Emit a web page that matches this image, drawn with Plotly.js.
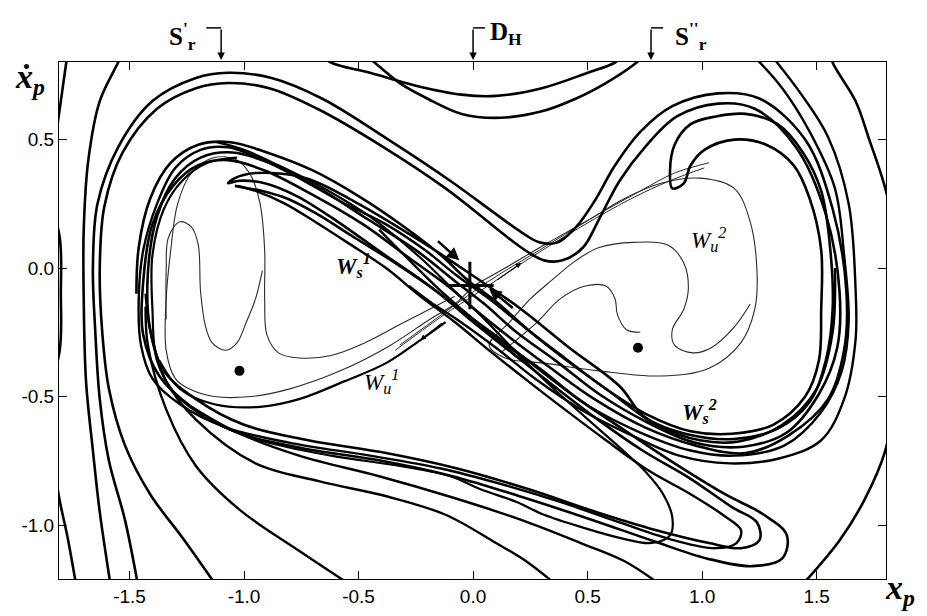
<!DOCTYPE html>
<html><head><meta charset="utf-8">
<script src="https://cdn.plot.ly/plotly-3.0.1.min.js"></script>
<style>html,body{margin:0;padding:0;background:#fff}#chart{width:927px;height:616px}</style>
</head><body><div id="chart"></div>
<script>
// ---- tick labels ----
const xTickVals = [-1.5,-1.0,-0.5,0,0.5,1.0,1.5];
const xTickText = ['-1.5','-1.0','-0.5','0.0','0.5','1.0','1.5'];
const yTickVals = [-1.0,-0.5,0,0.5];
const yTickText = ['-1.0','-0.5','0.0','0.5'];

// ---- outer trajectories (left) ----
const outerLeftAX = [-1.77,-1.80,-1.83,-1.86,-1.86,-1.84,-1.81,-1.77,-1.73];
const outerLeftAY = [0.84,0.65,0.45,0.15,-0.30,-0.65,-0.88,-1.05,-1.25];
const borderTouchX = [-1.86,-1.805,-1.80,-1.805,-1.86];
const borderTouchY = [0.30,0.12,-0.10,-0.32,-0.50];
const outerLeftBX = [-1.53,-1.55,-1.63,-1.68,-1.70,-1.70,-1.69,-1.66,-1.63,-1.58];
const outerLeftBY = [0.84,0.80,0.65,0.42,0.15,-0.12,-0.44,-0.71,-0.95,-1.25];

// ---- top saddle-shaped trajectories ----
const topUpperX = [-0.66,-0.62,-0.45,-0.25,-0.05,0.10,0.30,0.50,0.62,0.66];
const topUpperY = [0.83,0.80,0.76,0.71,0.675,0.67,0.70,0.76,0.80,0.83];
const topLowerX = [-0.47,-0.43,-0.32,-0.20,-0.05,0.12,0.30,0.45,0.58,0.70,0.75];
const topLowerY = [0.83,0.80,0.72,0.66,0.60,0.585,0.61,0.66,0.72,0.79,0.83];

// ---- outer trajectories (right) ----
const rt1X = [1.56,1.57,1.67,1.73,1.80,1.85,1.86,1.84,1.80,1.71,1.60,1.42];
const rt1Y = [0.84,0.80,0.65,0.50,0.31,0.10,-0.20,-0.50,-0.71,-0.90,-1.06,-1.25];
const rt2X = [1.22,1.35,1.47,1.58,1.62,1.64,1.61,1.52,1.36,1.14,0.95,0.73,0.51,0.31,0.14,-0.01,-0.14,-0.30,-0.41];
const rt2Y = [0.83,0.70,0.53,0.31,0.05,-0.21,-0.40,-0.56,-0.69,-0.73,-0.71,-0.64,-0.54,-0.41,-0.29,-0.19,-0.09,0.05,0.15];
const rt3X = [1.30,1.43,1.55,1.64,1.67,1.67,1.62,1.52,1.34,1.12,0.90,0.69,0.47,0.27,0.10,-0.07,-0.19,-0.28];
const rt3Y = [0.83,0.68,0.51,0.25,-0.08,-0.28,-0.51,-0.67,-0.74,-0.76,-0.73,-0.65,-0.55,-0.43,-0.31,-0.20,-0.13,-0.07];

// ---- stable manifold bundle (thick) ----
const m1X = [-1.46,-1.52,-1.59,-1.63,-1.65,-1.66,-1.64,-1.55,-1.40,-1.21,-1.07,-0.88,-0.66,-0.37,-0.10,0.10,0.21,0.29,0.37,0.45,0.53,0.62,0.73,0.87,1.07,1.25,1.45,1.57,1.63,1.62,1.55,1.38,1.19,0.97,0.75,0.53,0.34,0.16,0.02,-0.11,-0.28,-0.48,-0.71,-0.91,-1.07,-1.20,-1.31,-1.40,-1.44,-1.44,-1.37,-1.23,-1.03,-0.75,-0.40,-0.09,0.21,0.52,0.78,1.02,1.22,1.35,1.37,1.27,1.10,0.88,0.66,0.46,0.29,0.11,-0.06,-0.22,-0.40,-0.59,-0.77,-0.91,-1.02,-1.07,
  -1.04,-0.95,-0.73,-0.52,-0.22,0.00,0.21,0.42,0.64,
  0.75,0.95,1.14,1.33,1.47,1.54,1.57,1.56,1.52,1.44,1.33,1.19,1.06,0.95,0.88,0.86,0.87,
  0.92,0.95,1.01,1.14,1.28,1.40,1.47,1.52,1.52,1.51,1.45,1.31,1.13,0.95,0.76,0.58,0.40,0.24,0.10,-0.02,-0.14,
  -0.30,-0.50,-0.70,-0.90,-1.06,-1.20,-1.32,-1.41,-1.46,-1.47];
const m1Y = [-1.25,-0.98,-0.75,-0.51,-0.24,0.00,0.25,0.47,0.65,0.74,0.76,0.74,0.66,0.50,0.34,0.21,0.14,0.10,0.10,0.16,0.26,0.40,0.53,0.63,0.68,0.66,0.50,0.23,-0.09,-0.32,-0.51,-0.65,-0.72,-0.69,-0.62,-0.51,-0.39,-0.27,-0.17,-0.07,0.04,0.17,0.29,0.38,0.42,0.40,0.32,0.17,-0.05,-0.26,-0.42,-0.54,-0.64,-0.70,-0.75,-0.81,-0.89,-0.98,-1.06,-1.13,-1.16,-1.13,-1.04,-0.96,-0.88,-0.76,-0.63,-0.51,-0.39,-0.28,-0.16,-0.05,0.06,0.18,0.28,0.33,0.34,0.33,
  0.35,0.37,0.35,0.26,0.10,-0.03,-0.16,-0.31,-0.46,
  -0.58,-0.65,-0.665,-0.625,-0.52,-0.36,-0.16,0.07,0.30,0.45,0.56,0.60,0.59,0.56,0.48,0.38,0.31,
  0.33,0.40,0.46,0.50,0.48,0.40,0.27,0.07,-0.16,-0.36,-0.50,-0.61,-0.645,-0.635,-0.57,-0.47,-0.35,-0.24,-0.13,-0.05,0.05,
  0.16,0.28,0.38,0.45,0.49,0.48,0.41,0.27,0.08,-0.10];
const m2X = [-1.11,-1.26,-1.41,-1.52,-1.59,-1.62,-1.63,-1.61,-1.53,-1.38,-1.21,-1.07,-0.89,-0.68,-0.39,-0.12,0.08,0.21,0.31,0.39,0.48,0.55,0.64,0.75,0.89,1.07,1.23,1.41,1.54,1.60,1.59,1.51,1.37,1.18,0.97,0.76,0.55,0.36,0.19,0.05,-0.08,-0.25,-0.46,-0.69,-0.89,-1.05,-1.19,-1.30,-1.38,-1.42,-1.41,-1.35,-1.21,-1.00,-0.72,-0.38,-0.07,0.24,0.54,0.80,1.03,1.17,1.25,1.24,1.13,0.95,0.74,0.53,0.34,0.17,0.00,-0.16,-0.34,-0.52,-0.68,-0.81,-0.92,-0.98,-1.04];
const m2Y = [-1.25,-1.06,-0.88,-0.69,-0.47,-0.24,0.00,0.24,0.45,0.62,0.70,0.72,0.70,0.62,0.47,0.31,0.17,0.08,0.03,0.03,0.08,0.19,0.34,0.47,0.59,0.64,0.62,0.47,0.21,-0.09,-0.31,-0.49,-0.64,-0.695,-0.68,-0.60,-0.49,-0.36,-0.25,-0.14,-0.05,0.07,0.19,0.32,0.41,0.45,0.43,0.35,0.20,-0.02,-0.24,-0.40,-0.51,-0.61,-0.67,-0.72,-0.78,-0.86,-0.95,-1.02,-1.07,-1.09,-1.06,-0.99,-0.93,-0.82,-0.71,-0.58,-0.45,-0.33,-0.21,-0.09,0.02,0.12,0.21,0.27,0.30,0.31,0.32];
const m3X = [1.58,1.57,1.50,1.35,1.16,0.99,0.80,0.58,0.38,0.21,0.07,-0.07,-0.21,-0.38,-0.58,-0.78,-0.94,-1.07,-1.19,-1.30,-1.38,-1.44,-1.46,-1.45,-1.40,-1.28,-1.08,-0.80,-0.45,-0.14,0.12,0.38,0.64,0.88,1.06,1.15,1.17,1.09,0.95,0.77,0.58,0.40,0.24,0.07,-0.08,-0.23,-0.38,-0.55,-0.69,-0.82,-0.95,-1.03];
const m3Y = [0.00,-0.25,-0.47,-0.61,-0.675,-0.67,-0.61,-0.47,-0.34,-0.22,-0.12,-0.03,0.07,0.17,0.26,0.36,0.43,0.47,0.46,0.39,0.25,0.07,-0.12,-0.30,-0.43,-0.53,-0.62,-0.68,-0.73,-0.78,-0.84,-0.91,-0.99,-1.06,-1.09,-1.07,-1.02,-0.96,-0.88,-0.79,-0.67,-0.55,-0.44,-0.32,-0.21,-0.11,0.00,0.10,0.18,0.25,0.30,0.32];
const m4X = [-1.12,-1.00,-0.85,-0.65,-0.45,-0.23,-0.08,0.04,0.18,0.34,0.49,0.63,0.75,0.83,0.87,0.86,0.78,0.64,0.48,0.31,0.19,0.03,-0.10,-0.32,-0.62,-0.93,-1.15,-1.30,-1.38,-1.40,-1.40,-1.35,-1.27,-1.16,-1.03];
const m4Y = [0.49,0.46,0.40,0.31,0.20,0.04,-0.09,-0.19,-0.32,-0.46,-0.58,-0.69,-0.79,-0.88,-0.97,-1.04,-1.07,-1.05,-1.01,-0.96,-0.91,-0.86,-0.81,-0.77,-0.73,-0.67,-0.59,-0.49,-0.36,-0.16,0.05,0.23,0.34,0.41,0.43];
const eX = [-1.43,-1.41,-1.34,-1.21,-0.95,-0.67,-0.37,-0.12,0.10,0.23,0.36];
const eY = [-0.10,-0.24,-0.44,-0.59,-0.76,-0.83,-0.89,-0.96,-1.07,-1.14,-1.23];
const fX = [-1.43,-1.42,-1.34,-1.21,-1.02,-0.76,-0.54];
const fY = [-0.15,-0.30,-0.55,-0.77,-0.94,-1.10,-1.23];
const gX = [-1.23,-1.03,-0.76,-0.41,-0.10,0.21,0.47,0.66,0.83];
const gY = [-0.54,-0.64,-0.73,-0.81,-0.89,-0.98,-1.07,-1.14,-1.24];
const tkX = [-1.37,-1.28,-1.13,-0.93,-0.76,-0.56,-0.38,-0.23,-0.12];
const tkY = [-0.36,-0.47,-0.53,-0.54,-0.51,-0.44,-0.37,-0.28,-0.21];

// ---- unstable manifolds (thin) ----
const wu1X = [0.00,-0.08,-0.19,-0.36,-0.58,-0.80,-0.97,-1.13,-1.24,-1.30,-1.34,-1.34,-1.32,-1.29,-1.23,-1.13,-1.03,-0.97,-0.93,-0.91,-0.91,-0.90,-0.85,-0.76,-0.62,-0.47,-0.32,-0.19,-0.08];
const wu1Y = [-0.07,-0.14,-0.20,-0.30,-0.40,-0.47,-0.50,-0.50,-0.47,-0.43,-0.32,-0.12,0.07,0.25,0.37,0.43,0.42,0.36,0.25,0.07,-0.12,-0.26,-0.33,-0.35,-0.34,-0.29,-0.22,-0.16,-0.11];
const wi1X = [-1.34,-1.34,-1.33,-1.28,-1.23,-1.20,-1.19,-1.17,-1.14,-1.08,-1.03,-0.99,-0.95,-0.92];
const wi1Y = [-0.20,-0.01,0.12,0.18,0.16,0.09,-0.09,-0.22,-0.29,-0.32,-0.29,-0.21,-0.12,-0.01];
const tl1X = [-0.34,-0.14,0.03,0.25,0.47,0.69,0.86,1.01];
const tl1Y = [-0.32,-0.19,-0.09,0.04,0.16,0.27,0.34,0.39];
const tl2X = [-0.32,-0.12,0.07,0.29,0.51,0.73,0.88,1.03];
const tl2Y = [-0.30,-0.17,-0.05,0.07,0.19,0.30,0.37,0.41];
const wu2X = [0.00,0.14,0.31,0.49,0.66,0.82,0.99,1.14,1.21,1.24,1.23,1.17,1.03,0.82,0.55,0.31,0.14,0.07,0.16,0.25,0.34,0.45,0.55,0.70,0.85,0.92,0.94,0.92,0.87,0.88,0.96,1.04,1.14,1.21];
const wu2Y = [-0.07,0.00,0.09,0.18,0.27,0.33,0.35,0.31,0.18,-0.02,-0.16,-0.29,-0.39,-0.42,-0.40,-0.37,-0.35,-0.30,-0.21,-0.12,-0.05,0.03,0.08,0.10,0.09,0.02,-0.08,-0.16,-0.24,-0.30,-0.33,-0.31,-0.23,-0.14];
const wi2X = [0.12,0.28,0.38,0.49,0.58,0.62,0.63,0.67,0.73];
const wi2Y = [-0.33,-0.21,-0.12,-0.07,-0.07,-0.12,-0.18,-0.24,-0.25];

// ---- fixed points ----
const focusX = [-1.02, 0.72];
const focusY = [-0.40, -0.31];
const saddleX = [-0.014];
const saddleY = [-0.068];

function curve(xs, ys, w, c) {
  return {x: xs, y: ys, type: 'scatter', mode: 'lines', hoverinfo: 'skip',
          line: {color: c, width: w, shape: 'spline', smoothing: 1}};
}
const THIN = '#2a2a2a', K = '#000';
const traces = [
  curve(wu1X, wu1Y, 1.1, THIN), curve(wi1X, wi1Y, 1.1, THIN),
  curve(tl1X, tl1Y, 1.0, THIN), curve(tl2X, tl2Y, 1.0, THIN),
  curve(wu2X, wu2Y, 1.1, THIN), curve(wi2X, wi2Y, 1.1, THIN),
  curve(outerLeftAX, outerLeftAY, 2.6, K), curve(borderTouchX, borderTouchY, 2.6, K),
  curve(outerLeftBX, outerLeftBY, 2.6, K),
  curve(topUpperX, topUpperY, 2.6, K), curve(topLowerX, topLowerY, 2.6, K),
  curve(rt1X, rt1Y, 2.6, K), curve(rt2X, rt2Y, 2.4, K), curve(rt3X, rt3Y, 2.4, K),
  curve(m1X, m1Y, 2.6, K), curve(m2X, m2Y, 2.6, K), curve(m3X, m3Y, 2.4, K), curve(m4X, m4Y, 2.2, K),
  curve(eX, eY, 2.4, K), curve(fX, fY, 2.4, K), curve(gX, gY, 2.4, K), curve(tkX, tkY, 2.2, K),
  {x: focusX, y: focusY, type: 'scatter', mode: 'markers', hoverinfo: 'skip',
   marker: {color: K, size: 10, symbol: 'circle'}},
  {x: saddleX, y: saddleY, type: 'scatter', mode: 'markers', hoverinfo: 'skip',
   marker: {color: K, size: 34, symbol: 'cross-thin', line: {color: K, width: 3}}}
];

const serif = 'Liberation Serif, Times New Roman, DejaVu Serif, serif';
function arrow(x, y, ax, ay, w) {
  return {x: x, y: y, ax: ax, ay: ay, xref: 'x', yref: 'y', axref: 'x', ayref: 'y',
          showarrow: true, arrowhead: 2, arrowsize: 1, arrowwidth: w, arrowcolor: K, text: ''};
}
function topArrow(x) {
  return {x: x, y: 1.004, xref: 'x', yref: 'paper', ax: 0, ay: -32, showarrow: true,
          arrowhead: 2, arrowsize: 1, arrowwidth: 1.5, arrowcolor: K, text: ''};
}
function label(x, y, t, size, xref, yref) {
  return {x: x, y: y, xref: xref || 'x', yref: yref || 'y', text: t, showarrow: false,
          font: {family: serif, size: size, color: K}};
}
const annotations = [
  arrow(-0.06, 0.03, -0.16, 0.11, 2.5),
  arrow(0.07, -0.08, 0.18, -0.16, 2.5),
  arrow(0.21, 0.02, 0.10, -0.05, 1.1),
  arrow(-0.23, -0.28, -0.13, -0.21, 1.1),
  label(-0.52, 0.01, '<b><i>W<sub>s</sub><sup>1</sup></i></b>', 23),
  label(0.99, -0.56, '<b><i>W<sub>s</sub><sup>2</sup></i></b>', 23),
  label(1.03, 0.11, '<i>W<sub>u</sub><sup>2</sup></i>', 23),
  label(-0.40, -0.44, '<i>W<sub>u</sub><sup>1</sup></i>', 23),
  topArrow(-1.10), topArrow(0.0), topArrow(0.777),
  label(-1.27, 1.089, "<b>S<sup>'</sup><sub>r</sub></b>", 25, 'x', 'paper'),
  label(0.145, 1.089, '<b>D<sub>H</sub></b>', 25, 'x', 'paper'),
  label(0.95, 1.089, "<b>S<sup>''</sup><sub>r</sub></b>", 25, 'x', 'paper'),
  label(-0.056, 1.012, '<b><i>ẋ<sub>p</sub></i></b>', 34, 'paper', 'paper'),
  label(1.038, -0.066, '<b><i>x<sub>p</sub></i></b>', 34, 'paper', 'paper')
];
const bracket = (x0, x1) => ({type: 'line', xref: 'x', yref: 'paper', x0: x0, x1: x1,
  y0: 1.066, y1: 1.066, line: {color: K, width: 1.5}});
const shapes = [bracket(-1.165, -1.10), bracket(0.0, 0.052), bracket(0.777, 0.83)];

const axisCommon = {showline: true, linecolor: K, linewidth: 1, mirror: 'ticks', ticks: 'inside',
  ticklen: 8, tickwidth: 1, tickcolor: K, showgrid: false, zeroline: false,
  tickfont: {family: 'Liberation Sans, Arial, sans-serif', size: 19, color: K}};
const layout = {
  width: 927, height: 616, autosize: false, showlegend: false,
  paper_bgcolor: '#fff', plot_bgcolor: '#fff',
  margin: {l: 59, r: 41, t: 62, b: 37},
  xaxis: Object.assign({}, axisCommon, {range: [-1.808, 1.803], tickvals: xTickVals, ticktext: xTickText}),
  yaxis: Object.assign({}, axisCommon, {range: [-1.21, 0.802], tickvals: yTickVals, ticktext: yTickText}),
  annotations: annotations, shapes: shapes
};
Plotly.newPlot('chart', traces, layout, {displayModeBar: false, staticPlot: true});
</script></body></html>
